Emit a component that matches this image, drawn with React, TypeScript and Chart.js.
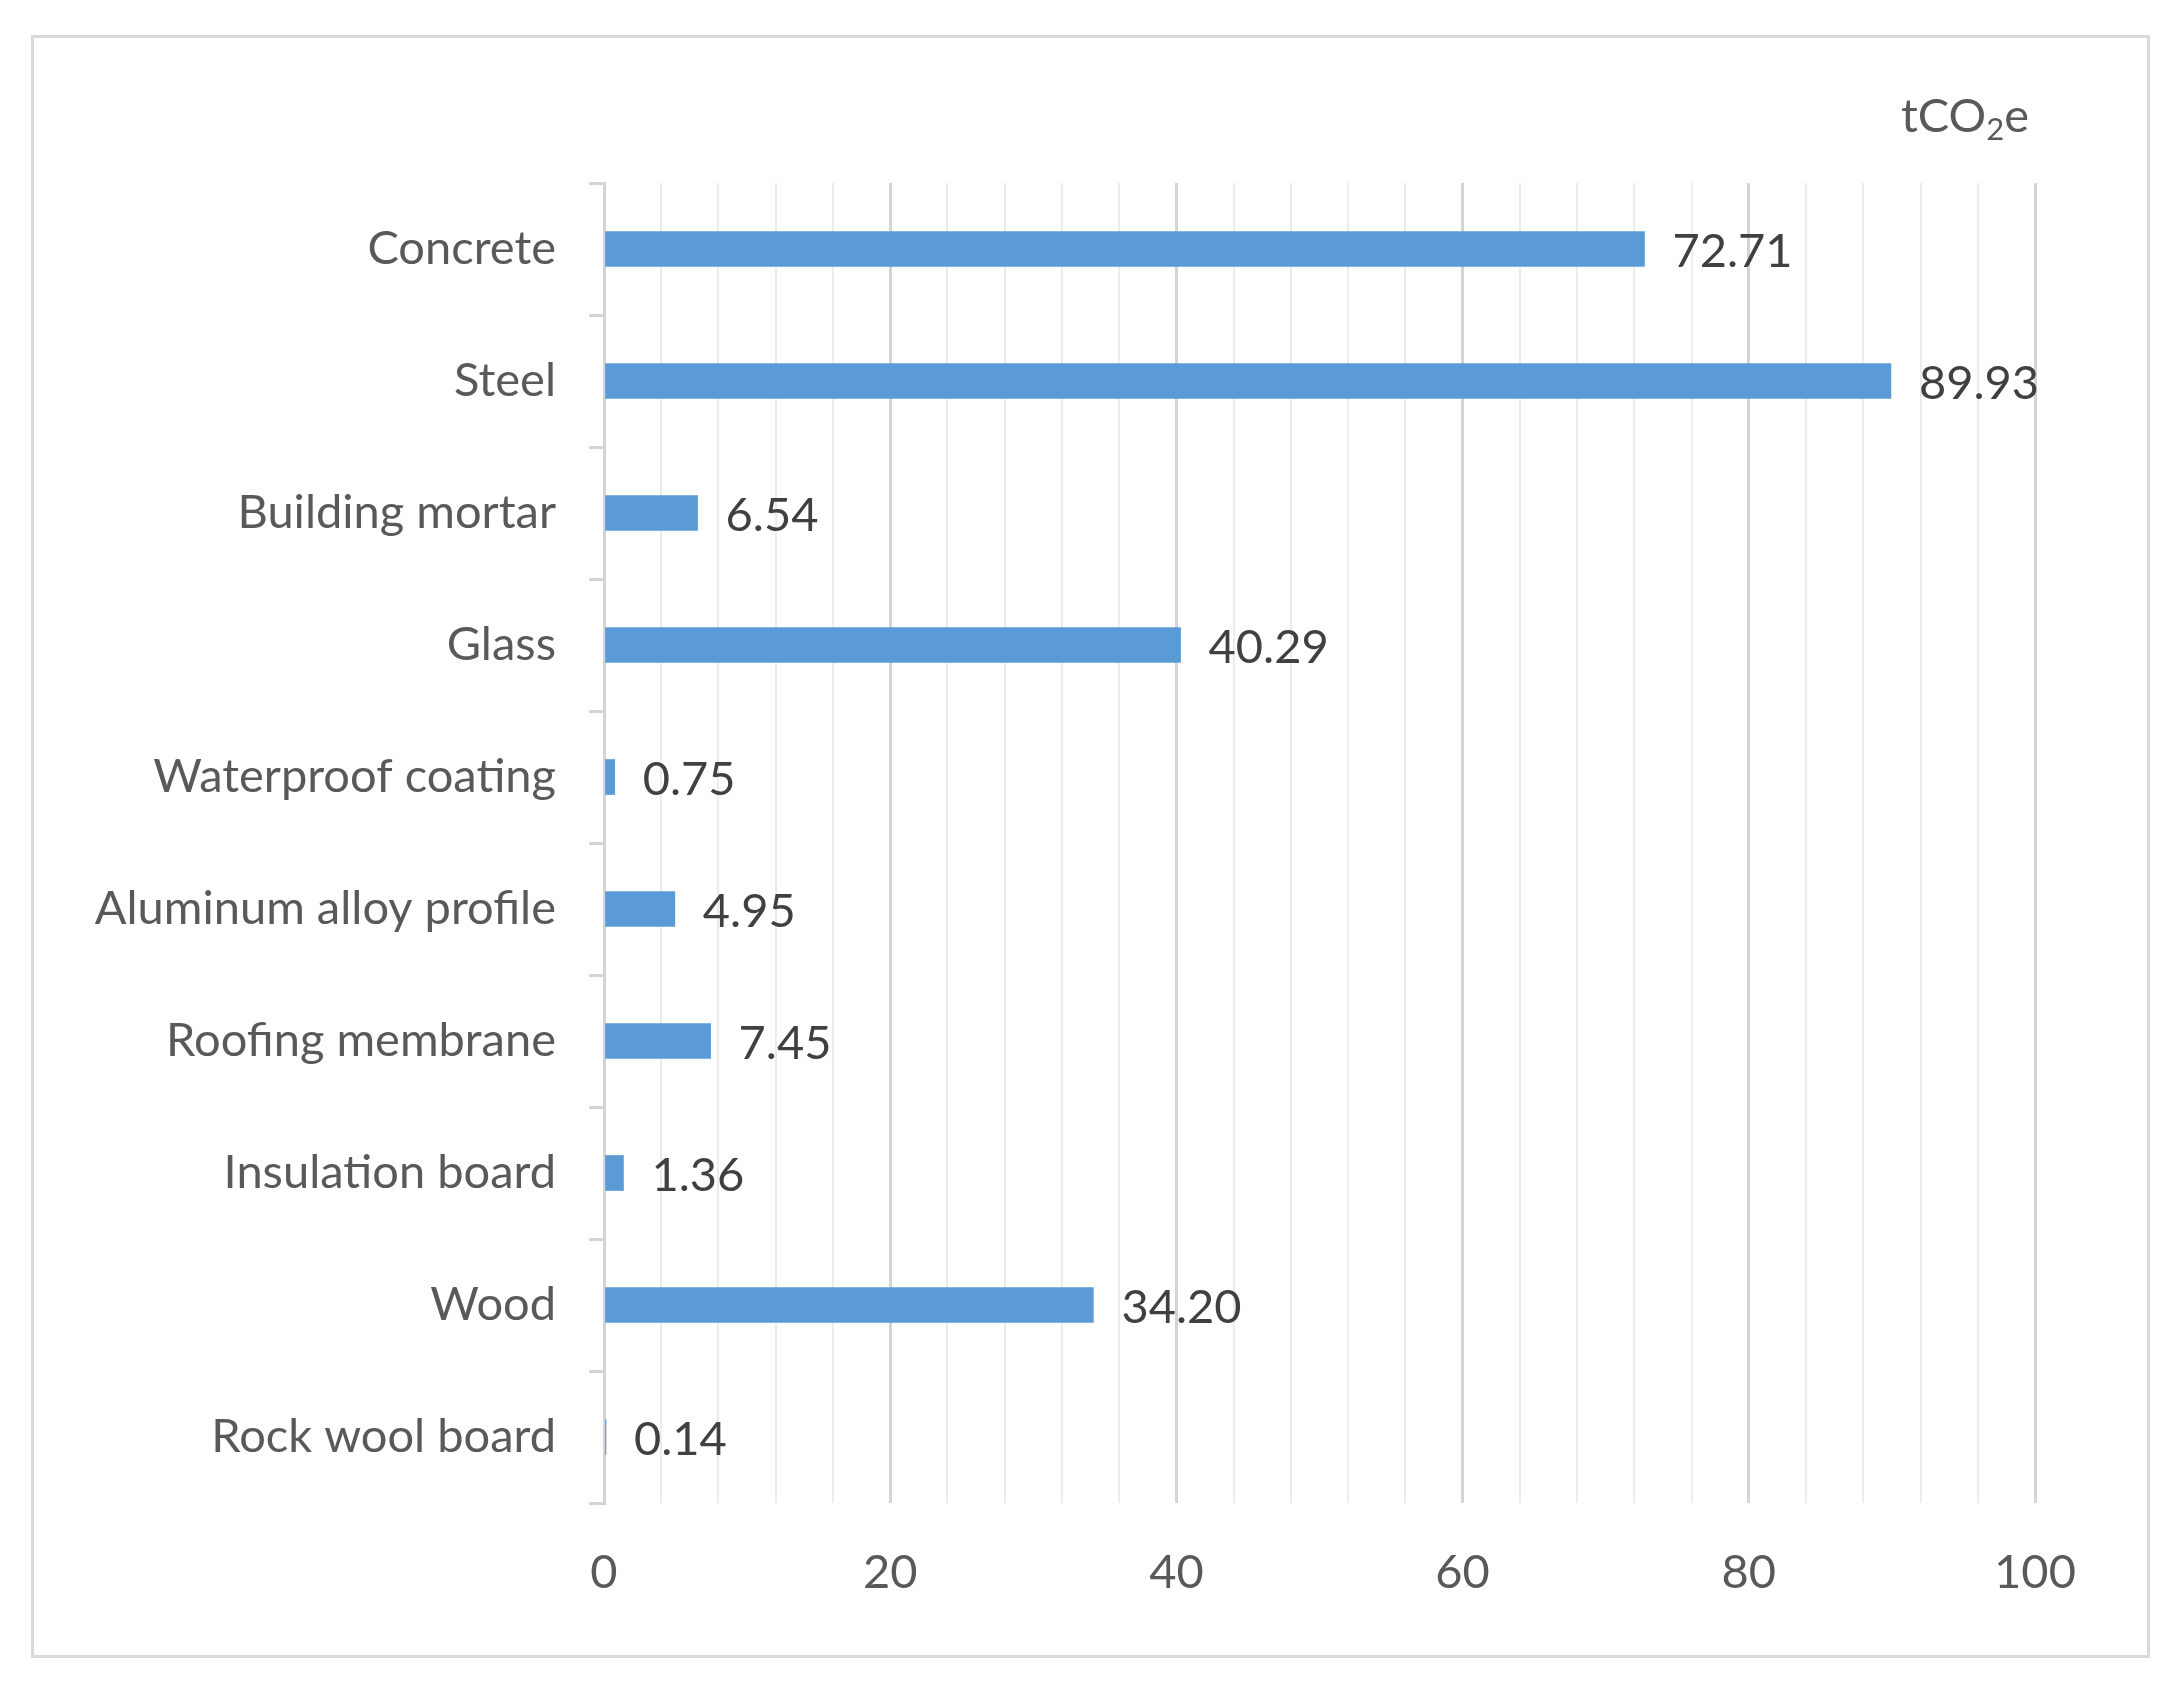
import React, { useEffect, useRef } from "react";
import { Chart, registerables } from "chart.js";

Chart.register(...registerables);

const categories = [
  "Concrete",
  "Steel",
  "Building mortar",
  "Glass",
  "Waterproof coating",
  "Aluminum alloy profile",
  "Roofing membrane",
  "Insulation board",
  "Wood",
  "Rock wool board",
];
const values = [72.71, 89.93, 6.54, 40.29, 0.75, 4.95, 7.45, 1.36, 34.2, 0.14];
const xTickLabels = [0, 20, 40, 60, 80, 100];
const unitParts = ["tCO", "2", "e"];

const FONT = "Lato, 'Noto Sans', sans-serif";
const FONT_SIZE = 47;
const AXIS_TEXT = "#595959";
const LABEL_TEXT = "#404040";
const BAR_COLOR = "#5B9BD5";

const decorPlugin = {
  id: "decor",
  beforeDraw(chart: any) {
    const ctx = chart.ctx;
    ctx.save();
    ctx.fillStyle = "#ffffff";
    ctx.fillRect(0, 0, chart.width, chart.height);
    ctx.strokeStyle = "#d9d9d9";
    ctx.lineWidth = 3;
    ctx.strokeRect(32.5, 36.5, 2116, 1620);
    ctx.restore();
  },
  afterDatasetsDraw(chart: any) {
    const ctx = chart.ctx;
    ctx.save();
    const meta = chart.getDatasetMeta(0);
    ctx.font = `${FONT_SIZE}px ${FONT}`;
    ctx.fillStyle = LABEL_TEXT;
    ctx.textBaseline = "middle";
    ctx.textAlign = "left";
    meta.data.forEach((bar: any, i: number) => {
      ctx.fillText(values[i].toFixed(2), bar.x + 28, bar.y + 3);
    });

    // unit label tCO2e with subscript
    const bigFont = `${FONT_SIZE}px ${FONT}`;
    const smallFont = `31px ${FONT}`;
    ctx.textBaseline = "alphabetic";
    ctx.fillStyle = AXIS_TEXT;
    ctx.font = bigFont;
    const w0 = ctx.measureText(unitParts[0]).width;
    const w2 = ctx.measureText(unitParts[2]).width;
    ctx.font = smallFont;
    const w1 = ctx.measureText(unitParts[1]).width;
    const right = 2029;
    const baseline = 132;
    let x = right - w0 - w1 - w2;
    ctx.font = bigFont;
    ctx.fillText(unitParts[0], x, baseline);
    x += w0;
    ctx.font = smallFont;
    ctx.fillText(unitParts[1], x, baseline + 8);
    x += w1;
    ctx.font = bigFont;
    ctx.fillText(unitParts[2], x, baseline);
    ctx.restore();
  },
};

export default function App() {
  const canvasRef = useRef<HTMLCanvasElement | null>(null);

  useEffect(() => {
    if (!canvasRef.current) return;
    const chart = new Chart(canvasRef.current, {
      type: "bar",
      data: {
        labels: categories,
        datasets: [
          {
            data: values,
            backgroundColor: BAR_COLOR,
            borderWidth: 0,
            barThickness: 35,
          },
        ],
      },
      options: {
        indexAxis: "y",
        animation: false,
        responsive: false,
        devicePixelRatio: 1,
        layout: { padding: { top: 183, right: 145, left: 0, bottom: 89 } },
        plugins: {
          legend: { display: false },
          tooltip: { enabled: false },
        },
        scales: {
          x: {
            type: "linear",
            min: 0,
            max: 100,
            afterFit: (s: any) => {
              s.height = 100;
            },
            border: { display: false },
            grid: {
              drawTicks: false,
              color: (c: any) =>
                c.tick && c.tick.value % 20 === 0 ? "#d4d4d4" : "#ececec",
              lineWidth: (c: any) =>
                c.tick && c.tick.value % 20 === 0 ? 3 : 2,
            },
            ticks: {
              stepSize: 4,
              autoSkip: false,
              maxRotation: 0,
              padding: 42,
              color: AXIS_TEXT,
              font: { family: FONT, size: FONT_SIZE },
              callback: (v: any) =>
                xTickLabels.includes(Number(v)) ? String(v) : "",
            },
          },
          y: {
            type: "category",
            afterFit: (s: any) => {
              s.width = 604;
            },
            border: { display: true, color: "#d4d4d4", width: 3 },
            grid: {
              drawOnChartArea: false,
              drawTicks: true,
              tickLength: 15,
              color: "#d4d4d4",
              lineWidth: 3,
              offset: true,
            },
            ticks: {
              padding: 33,
              autoSkip: false,
              color: AXIS_TEXT,
              font: { family: FONT, size: FONT_SIZE },
            },
          },
        },
      },
      plugins: [decorPlugin],
    } as any);
    return () => chart.destroy();
  }, []);

  return (
    <div style={{ position: "absolute", left: 0, top: 0, width: 2180, height: 1692 }}>
      <canvas
        ref={canvasRef}
        width={2180}
        height={1692}
        style={{ width: 2180, height: 1692, display: "block" }}
      />
    </div>
  );
}
